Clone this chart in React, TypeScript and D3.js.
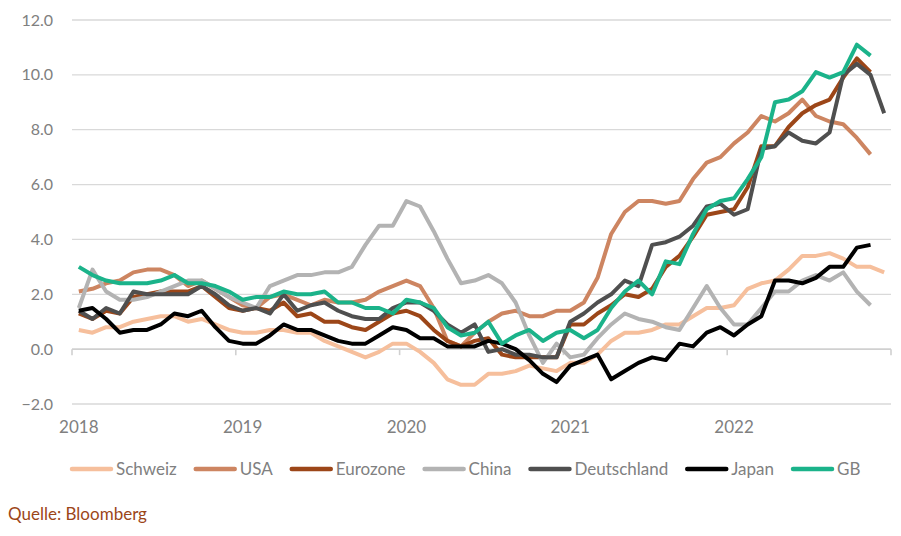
import { useEffect, useRef } from 'react';
import * as d3 from 'd3';

// Teuerung (CPI, % yoy), monthly Jan 2018 - Dec 2022
const years = ['2018', '2019', '2020', '2021', '2022'];
const months = years.flatMap(y => d3.range(1, 13).map(m => `${y}-${m}`));
const yTicks = [-2, 0, 2, 4, 6, 8, 10, 12];

const schweiz = [
  0.7, 0.6, 0.8, 0.8, 1.0, 1.1, 1.2, 1.2, 1.0, 1.1, 0.9, 0.7,
  0.6, 0.6, 0.7, 0.7, 0.6, 0.6, 0.3, 0.1, -0.1, -0.3, -0.1, 0.2,
  0.2, -0.1, -0.5, -1.1, -1.3, -1.3, -0.9, -0.9, -0.8, -0.6, -0.7, -0.8,
  -0.5, -0.5, -0.2, 0.3, 0.6, 0.6, 0.7, 0.9, 0.9, 1.2, 1.5, 1.5,
  1.6, 2.2, 2.4, 2.5, 2.9, 3.4, 3.4, 3.5, 3.3, 3.0, 3.0, 2.8,
];
const usa = [
  2.1, 2.2, 2.4, 2.5, 2.8, 2.9, 2.9, 2.7, 2.3, 2.5, 2.2, 1.9,
  1.6, 1.5, 1.9, 2.0, 1.8, 1.6, 1.8, 1.7, 1.7, 1.8, 2.1, 2.3,
  2.5, 2.3, 1.5, 0.3, 0.1, 0.6, 1.0, 1.3, 1.4, 1.2, 1.2, 1.4,
  1.4, 1.7, 2.6, 4.2, 5.0, 5.4, 5.4, 5.3, 5.4, 6.2, 6.8, 7.0,
  7.5, 7.9, 8.5, 8.3, 8.6, 9.1, 8.5, 8.3, 8.2, 7.7, 7.1, null,
];
const eurozone = [
  1.3, 1.1, 1.4, 1.3, 1.9, 2.0, 2.1, 2.1, 2.1, 2.3, 1.9, 1.5,
  1.4, 1.5, 1.4, 1.7, 1.2, 1.3, 1.0, 1.0, 0.8, 0.7, 1.0, 1.3,
  1.4, 1.2, 0.7, 0.3, 0.1, 0.3, 0.4, -0.2, -0.3, -0.3, -0.3, -0.3,
  0.9, 0.9, 1.3, 1.6, 2.0, 1.9, 2.2, 3.0, 3.4, 4.1, 4.9, 5.0,
  5.1, 5.9, 7.4, 7.4, 8.1, 8.6, 8.9, 9.1, 9.9, 10.6, 10.1, null,
];
const china = [
  1.5, 2.9, 2.1, 1.8, 1.8, 1.9, 2.1, 2.3, 2.5, 2.5, 2.2, 1.9,
  1.7, 1.5, 2.3, 2.5, 2.7, 2.7, 2.8, 2.8, 3.0, 3.8, 4.5, 4.5,
  5.4, 5.2, 4.3, 3.3, 2.4, 2.5, 2.7, 2.4, 1.7, 0.5, -0.5, 0.2,
  -0.3, -0.2, 0.4, 0.9, 1.3, 1.1, 1.0, 0.8, 0.7, 1.5, 2.3, 1.5,
  0.9, 0.9, 1.5, 2.1, 2.1, 2.5, 2.7, 2.5, 2.8, 2.1, 1.6, null,
];
const deutschland = [
  1.4, 1.1, 1.5, 1.3, 2.1, 2.0, 2.0, 2.0, 2.0, 2.3, 2.0, 1.6,
  1.4, 1.5, 1.3, 2.0, 1.4, 1.6, 1.7, 1.4, 1.2, 1.1, 1.1, 1.5,
  1.7, 1.7, 1.4, 0.9, 0.6, 0.9, -0.1, 0.0, -0.2, -0.2, -0.3, -0.3,
  1.0, 1.3, 1.7, 2.0, 2.5, 2.3, 3.8, 3.9, 4.1, 4.5, 5.2, 5.3,
  4.9, 5.1, 7.3, 7.4, 7.9, 7.6, 7.5, 7.9, 10.0, 10.4, 10.0, 8.6,
];
const japan = [
  1.4, 1.5, 1.1, 0.6, 0.7, 0.7, 0.9, 1.3, 1.2, 1.4, 0.8, 0.3,
  0.2, 0.2, 0.5, 0.9, 0.7, 0.7, 0.5, 0.3, 0.2, 0.2, 0.5, 0.8,
  0.7, 0.4, 0.4, 0.1, 0.1, 0.1, 0.3, 0.2, 0.0, -0.4, -0.9, -1.2,
  -0.6, -0.4, -0.2, -1.1, -0.8, -0.5, -0.3, -0.4, 0.2, 0.1, 0.6, 0.8,
  0.5, 0.9, 1.2, 2.5, 2.5, 2.4, 2.6, 3.0, 3.0, 3.7, 3.8, null,
];
const gb = [
  3.0, 2.7, 2.5, 2.4, 2.4, 2.4, 2.5, 2.7, 2.4, 2.4, 2.3, 2.1,
  1.8, 1.9, 1.9, 2.1, 2.0, 2.0, 2.1, 1.7, 1.7, 1.5, 1.5, 1.3,
  1.8, 1.7, 1.5, 0.8, 0.5, 0.6, 1.0, 0.2, 0.5, 0.7, 0.3, 0.6,
  0.7, 0.4, 0.7, 1.5, 2.1, 2.5, 2.0, 3.2, 3.1, 4.2, 5.1, 5.4,
  5.5, 6.2, 7.0, 9.0, 9.1, 9.4, 10.1, 9.9, 10.1, 11.1, 10.7, null,
];

const seriesNames = ['Schweiz', 'USA', 'Eurozone', 'China', 'Deutschland', 'Japan', 'GB'];
const seriesValues = [schweiz, usa, eurozone, china, deutschland, japan, gb];
const seriesColors = ['#F6BF9C', '#CD8561', '#9C4618', '#B3B3B3', '#4F4F4F', '#000000', '#1BB38A'];

const FONT = 'Lato, "Liberation Sans", Arial, sans-serif';

const App = () => {
  const ref = useRef<SVGSVGElement>(null);

  useEffect(() => {
    if (!ref.current) return;
    const svg = d3.select(ref.current);
    svg.selectAll('*').remove();

    const width = 901;
    const height = 536;
    svg.attr('width', width).attr('height', height);

    const x = d3.scaleBand<string>().domain(months).range([72, 891]);
    const y = d3.scaleLinear().domain([-2, 12]).range([404, 20]);
    const cx = (m: string) => (x(m) ?? 0) + x.bandwidth() / 2;

    // grid lines
    svg.append('g')
      .selectAll('line')
      .data(yTicks.filter(t => t !== 0))
      .enter()
      .append('line')
      .attr('x1', 72)
      .attr('x2', 891)
      .attr('y1', d => y(d))
      .attr('y2', d => y(d))
      .style('stroke', '#d9d9d9')
      .style('stroke-width', '1.3px');

    // y labels
    svg.append('g')
      .selectAll('text')
      .data(yTicks)
      .enter()
      .append('text')
      .attr('x', 53)
      .attr('y', d => y(d))
      .attr('dy', '0.35em')
      .attr('text-anchor', 'end')
      .style('font-family', FONT)
      .style('font-size', '16px')
      .style('fill', '#808080')
      .text(d => d3.format('.1f')(d));

    // x axis at zero with year ticks
    const axis = svg.append('g');
    axis.append('line')
      .attr('x1', 72)
      .attr('x2', 891)
      .attr('y1', y(0))
      .attr('y2', y(0))
      .style('stroke', '#d0d0d0')
      .style('stroke-width', '1.6px');

    const tickPos = years.map(yr => x(`${yr}-1`) ?? 0).concat([891]);
    axis.selectAll('.tick')
      .data(tickPos)
      .enter()
      .append('line')
      .attr('class', 'tick')
      .attr('x1', d => d)
      .attr('x2', d => d)
      .attr('y1', y(0))
      .attr('y2', y(0) + 6)
      .style('stroke', '#d0d0d0')
      .style('stroke-width', '1.6px');

    axis.selectAll('.year')
      .data(years)
      .enter()
      .append('text')
      .attr('class', 'year')
      .attr('x', d => cx(`${d}-1`))
      .attr('y', 433)
      .attr('text-anchor', 'middle')
      .style('font-family', FONT)
      .style('font-size', '17px')
      .style('fill', '#808080')
      .text(d => d);

    // lines
    const line = d3.line<number | null>()
      .defined(d => d != null)
      .x((_, i) => cx(months[i]))
      .y(d => y(d as number));

    const lines = svg.append('g');
    seriesValues.forEach((vals, i) => {
      lines.append('path')
        .datum(vals)
        .attr('d', line)
        .style('fill', 'none')
        .style('stroke', seriesColors[i])
        .style('stroke-width', '4px')
        .style('stroke-linejoin', 'round');
    });

    // legend
    const legend = svg.append('g');
    let lx = 70;
    const ly = 469;
    seriesNames.forEach((name, i) => {
      legend.append('line')
        .attr('x1', lx + 2)
        .attr('x2', lx + 41)
        .attr('y1', ly)
        .attr('y2', ly)
        .style('stroke', seriesColors[i])
        .style('stroke-width', '4.5px')
        .style('stroke-linecap', 'round');
      const t = legend.append('text')
        .attr('x', lx + 46)
        .attr('y', ly)
        .attr('dy', '0.35em')
        .style('font-family', FONT)
        .style('font-size', '17px')
        .style('fill', '#808080')
        .text(name);
      const w = (t.node() as SVGTextElement).getComputedTextLength();
      lx = lx + 46 + w + 17;
    });

    svg.append('text')
      .attr('x', 8)
      .attr('y', 520)
      .style('font-family', FONT)
      .style('font-size', '17px')
      .style('fill', '#9C4618')
      .text('Quelle: Bloomberg');
  }, []);

  return (
    <svg ref={ref} style={{ position: 'absolute', left: 0, top: 0, background: '#fff' }}></svg>
  );
};

export default App;
